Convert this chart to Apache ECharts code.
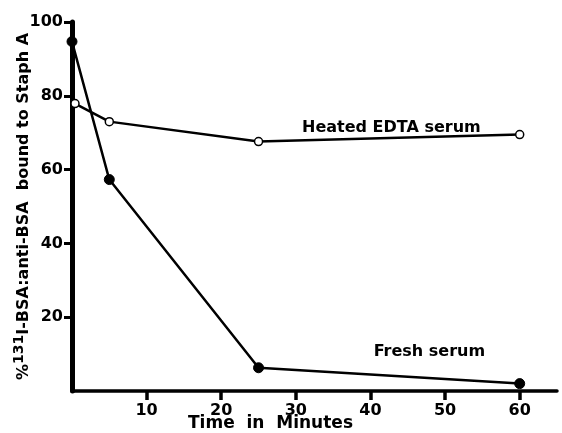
<!DOCTYPE html>
<html><head><meta charset="utf-8">
<script src="https://cdn.jsdelivr.net/npm/echarts@6/dist/echarts.min.js"></script>
<style>html,body{margin:0;padding:0;background:#fff}#c{width:562px;height:433px}</style>
</head><body><div id="c"></div>
<script>
const freshTime = [0, 5, 25, 60];
const freshValues = [94.7, 57.3, 6.3, 2.0];
const heatedTime = [0.4, 5, 25, 60];
const heatedValues = [77.9, 73.0, 67.6, 69.5];
const xTicks = [10, 20, 30, 40, 50, 60];
const yTicks = [20, 40, 60, 80, 100];
const heatedLabel = 'Heated EDTA serum';
const freshLabel = 'Fresh serum';

const F = '"DejaVu Sans", sans-serif';
const labelStyle = {show: true, position: 'inside', color: '#000', fontFamily: F, fontWeight: 'bold', fontSize: 16};
const chart = echarts.init(document.getElementById('c'));
chart.setOption({
  animation: false,
  backgroundColor: '#fff',
  grid: {left: 72, right: 5, top: 22, bottom: 42, containLabel: false, outerBoundsMode: 'none'},
  xAxis: [{
    type: 'value', min: 0, max: 65, interval: 10, position: 'bottom', z: 6,
    axisLine: {show: true, lineStyle: {color: '#000', width: 3.5}},
    axisTick: {show: true, length: 9, customValues: xTicks, lineStyle: {color: '#000', width: 3.5}},
    axisLabel: {show: false},
    splitLine: {show: false}
  }, {
    type: 'value', min: 0, max: 65, interval: 10, position: 'bottom', offset: 0, z: 1,
    axisLine: {show: false},
    axisTick: {show: false},
    axisLabel: {show: true, color: '#000', fontFamily: F, fontWeight: 'bold', fontSize: 16, margin: 12,
      customValues: xTicks, backgroundColor: 'transparent'},
    splitLine: {show: false}
  }],
  yAxis: {
    type: 'value', min: 0, max: 100, interval: 20,
    axisLine: {show: true, lineStyle: {color: '#000', width: 5}},
    axisTick: {show: true, length: 8, customValues: yTicks, lineStyle: {color: '#000', width: 3}},
    axisLabel: {color: '#000', fontFamily: F, fontWeight: 'bold', fontSize: 16, margin: 9,
      customValues: yTicks},
    splitLine: {show: false},
    name: '{a|%}{s|131}{a|I-BSA:anti-BSA  bound to Staph A}',
    nameLocation: 'middle', nameGap: 36, nameRotate: 90, nameMoveOverlap: false,
    nameTextStyle: {
      rich: {
        a: {fontFamily: F, fontWeight: 'bold', fontSize: 16, color: '#000'},
        s: {fontFamily: F, fontWeight: 'bold', fontSize: 14, color: '#000', verticalAlign: 'bottom', padding: [0, 0, 10, 0]}
      }
    }
  },
  graphic: [{
    type: 'text', left: 188, top: 415,
    style: {text: 'Time  in  Minutes', fontFamily: F, fontWeight: 'bold', fontSize: 17, fill: '#000'}
  }],
  series: [
    {
      type: 'line', name: heatedLabel,
      data: heatedTime.map((t, i) => [t, heatedValues[i]]),
      symbol: 'circle', symbolSize: 8,
      itemStyle: {color: '#fff', borderColor: '#000', borderWidth: 1.5},
      lineStyle: {color: '#000', width: 2.5},
      markPoint: {
        symbol: 'circle', symbolSize: 1,
        itemStyle: {color: 'rgba(0,0,0,0)', borderWidth: 0},
        label: Object.assign({formatter: heatedLabel}, labelStyle),
        data: [{coord: [42.8, 71.2]}]
      }
    },
    {
      type: 'line', name: freshLabel,
      data: freshTime.map((t, i) => [t, freshValues[i]]),
      symbol: 'circle', symbolSize: 10,
      itemStyle: {color: '#000', borderColor: '#000'},
      lineStyle: {color: '#000', width: 2.5},
      markPoint: {
        symbol: 'circle', symbolSize: 1,
        itemStyle: {color: 'rgba(0,0,0,0)', borderWidth: 0},
        label: Object.assign({formatter: freshLabel}, labelStyle),
        data: [{coord: [47.9, 10.6]}]
      }
    }
  ]
});
</script></body></html>
